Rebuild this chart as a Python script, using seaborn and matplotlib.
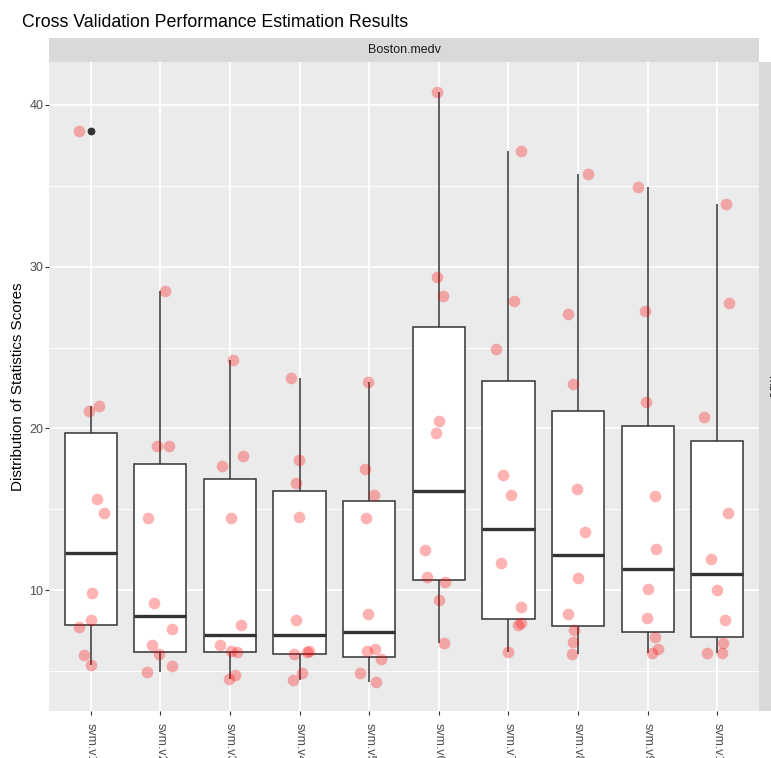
import numpy as np
import pandas as pd
import matplotlib
matplotlib.use("Agg")
import matplotlib.pyplot as plt
import seaborn as sns

# Per-fold mse of each svm variant on the Boston.medv task (10-fold CV)
workflows = ["svm.v1", "svm.v2", "svm.v3", "svm.v4", "svm.v5",
             "svm.v6", "svm.v7", "svm.v8", "svm.v9", "svm.v10"]
svm_v1 = [38.40, 21.40, 21.05, 15.66, 14.77, 9.86, 8.15, 7.74, 6.01, 5.41]
svm_v2 = [28.48, 18.91, 18.90, 14.44, 9.20, 7.62, 6.59, 6.05, 5.31, 4.92]
svm_v3 = [24.24, 18.31, 17.65, 14.49, 7.88, 6.63, 6.25, 6.19, 4.77, 4.49]
svm_v4 = [23.10, 18.07, 16.65, 14.51, 8.19, 6.23, 6.19, 6.05, 4.90, 4.44]
svm_v5 = [22.90, 17.51, 15.88, 14.44, 8.54, 6.36, 6.25, 5.78, 4.90, 4.36]
svm_v6 = [40.83, 29.37, 28.21, 20.49, 19.73, 12.51, 10.80, 10.54, 9.38, 6.75]
svm_v7 = [37.13, 27.88, 24.89, 17.15, 15.87, 11.68, 8.98, 7.99, 7.87, 6.16]
svm_v8 = [35.76, 27.08, 22.72, 16.25, 13.60, 10.78, 8.52, 7.55, 6.79, 6.07]
svm_v9 = [34.90, 27.28, 21.62, 15.80, 12.57, 10.10, 8.29, 7.12, 6.36, 6.15]
svm_v10 = [33.87, 27.73, 20.74, 14.79, 11.95, 10.04, 8.15, 6.75, 6.13, 6.10]

task = "Boston.medv"
metric = "mse"

scores = [svm_v1, svm_v2, svm_v3, svm_v4, svm_v5,
          svm_v6, svm_v7, svm_v8, svm_v9, svm_v10]
df = pd.DataFrame({
    "workflow": np.repeat(workflows, [len(s) for s in scores]),
    "score": np.concatenate(scores),
})

plt.rcParams["font.family"] = ["Liberation Sans", "DejaVu Sans"]

W, H = 771, 758
fig = plt.figure(figsize=(W / 100, H / 100), dpi=100)

# panel geometry in pixels
pl, pr, pt, pb = 49, 759, 62, 711
strip_h = 24.5

ax = fig.add_axes([pl / W, 1 - pb / H, (pr - pl) / W, (pb - pt) / H])
ax.set_facecolor("#EBEBEB")
for s in ax.spines.values():
    s.set_visible(False)

sns.boxplot(data=df, x="workflow", y="score", order=workflows, ax=ax,
            color="white", saturation=1, width=0.75, linecolor="#333333",
            linewidth=1.1, showcaps=False,
            medianprops=dict(linewidth=2.4, color="#333333"),
            flierprops=dict(marker="o", markersize=4.6,
                            markerfacecolor="#333333",
                            markeredgecolor="#333333"),
            zorder=2)

np.random.seed(7)
sns.stripplot(data=df, x="workflow", y="score", order=workflows, ax=ax,
              color="red", alpha=0.3, size=8.4, jitter=0.2, linewidth=0,
              zorder=3)

# ggplot-like 5% expansion on y, 0.6 on discrete x
lo, hi = df["score"].min(), df["score"].max()
pad = 0.05 * (hi - lo)
ax.set_ylim(lo - pad, hi + pad)
ax.set_xlim(-0.6, len(workflows) - 0.4)

ax.set_yticks([10, 20, 30, 40])
ax.set_yticks([5, 15, 25, 35], minor=True)
ax.grid(which="major", color="white", linewidth=1.3, zorder=0)
ax.grid(which="minor", axis="y", color="white", linewidth=0.65, zorder=0)
ax.set_axisbelow(True)

ax.tick_params(axis="both", which="major", length=2.7, width=0.8,
               color="#333333", labelcolor="#4D4D4D", labelsize=9.0)
ax.tick_params(axis="y", which="major", pad=1.3)
ax.tick_params(axis="x", which="major", pad=5.6, labelrotation=-90)
ax.tick_params(axis="y", which="minor", length=0)
for lab in ax.get_xticklabels():
    lab.set_va("top")
    lab.set_ha("center")

ax.set_xlabel("")
ax.set_ylabel("Distribution of Statistics Scores", fontsize=10.9,
              color="black", labelpad=3)

# facet strip on top
sax = fig.add_axes([pl / W, 1 - pt / H, (pr - pl) / W, strip_h / H])
sax.set_facecolor("#D9D9D9")
sax.set_xticks([]); sax.set_yticks([])
for s in sax.spines.values():
    s.set_visible(False)
sax.text(0.5, 0.5, task, ha="center", va="center", fontsize=9.0,
         color="#1A1A1A", transform=sax.transAxes)

# facet strip on the right
rax = fig.add_axes([pr / W, 1 - pb / H, strip_h / W, (pb - pt) / H])
rax.set_facecolor("#D9D9D9")
rax.set_xticks([]); rax.set_yticks([])
for s in rax.spines.values():
    s.set_visible(False)
rax.text(0.5, 0.5, metric, ha="center", va="center", fontsize=9.0,
         rotation=-90, color="#1A1A1A", transform=rax.transAxes)

fig.text(22 / W, 1 - 27 / H, "Cross Validation Performance Estimation Results",
         fontsize=12.8, color="black", ha="left", va="baseline")

fig.savefig("out.png", dpi=100)
